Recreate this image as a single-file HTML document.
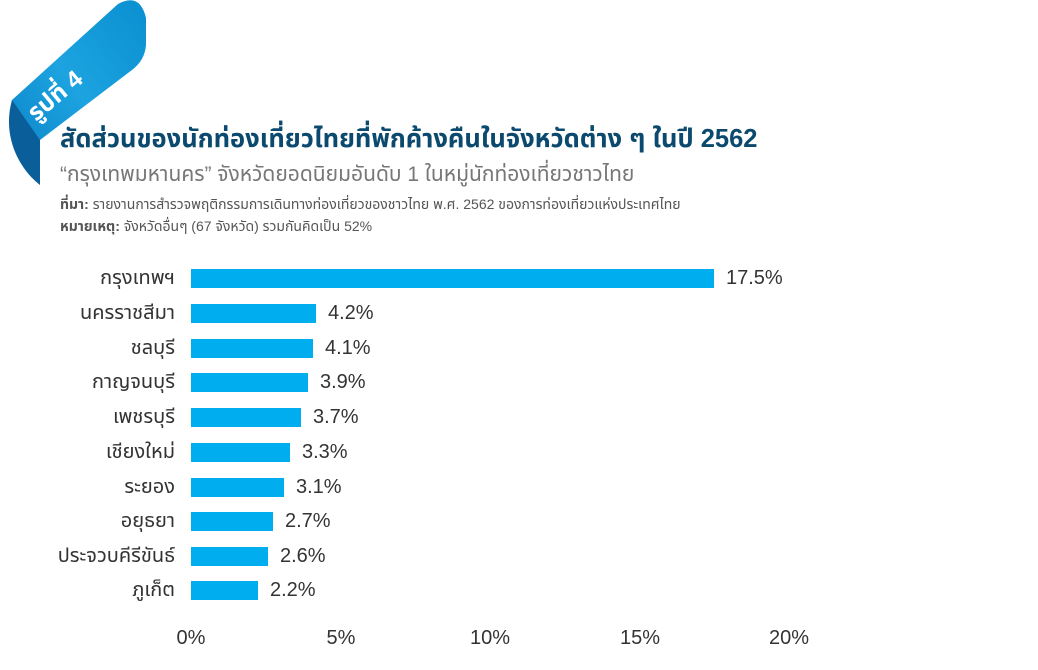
<!DOCTYPE html>
<html><head><meta charset="utf-8"><style>
body{margin:0;width:1038px;height:670px;background:#fff;font-family:"Liberation Sans","Noto Sans Thai","Tlwg Typist",sans-serif;position:relative;overflow:hidden}
.a{position:absolute;white-space:nowrap}
.lab{position:absolute;right:863px;font-size:20px;color:#333;line-height:20px}
.bar{position:absolute;left:191px;height:19px;background:#00adef}
.val{position:absolute;font-size:20px;color:#333;line-height:20px}
.tick{position:absolute;top:627px;font-size:20px;color:#333;transform:translateX(-50%)}
</style></head><body>
<svg class="a" style="left:0;top:0" width="160" height="200">
<defs><linearGradient id="g" x1="0" y1="1" x2="1" y2="0"><stop offset="0" stop-color="#0a7fc4"/><stop offset="0.5" stop-color="#1ca3e0"/><stop offset="1" stop-color="#0a8fd0"/></linearGradient></defs>
<path d="M40 185 C20 165 8 145 10 120 L12 100 L118 4 Q140 -8 146 18 L146 45 Q145 60 132 70 L40 140 Z" fill="url(#g)"/>
<path d="M12 100 C2 135 18 168 40 185 L40 140 Z" fill="#0a5f9a"/>
<text x="0" y="0" transform="translate(36 122) rotate(-40)" fill="#fff" font-size="24" font-weight="bold">รูปที่ 4</text>
</svg>
<div class="a" style="left:60px;top:121px;font-size:25.5px;font-weight:bold;color:#0b4a6e">สัดส่วนของนักท่องเที่ยวไทยที่พักค้างคืนในจังหวัดต่าง ๆ ในปี 2562</div>
<div class="a" style="left:60px;top:160px;font-size:21px;color:#777">“กรุงเทพมหานคร” จังหวัดยอดนิยมอันดับ 1 ในหมู่นักท่องเที่ยวชาวไทย</div>
<div class="a" style="left:60px;top:195px;font-size:14px;color:#555"><b>ที่มา:</b> รายงานการสำรวจพฤติกรรมการเดินทางท่องเที่ยวของชาวไทย พ.ศ. 2562 ของการท่องเที่ยวแห่งประเทศไทย</div>
<div class="a" style="left:60px;top:217px;font-size:14px;color:#555"><b>หมายเหตุ:</b> จังหวัดอื่นๆ (67 จังหวัด) รวมกันคิดเป็น 52%</div>

<div class="lab" style="top:268px">กรุงเทพฯ</div><div class="bar" style="top:269px;width:523px"></div><div class="val" style="top:268px;left:726px">17.5%</div>
<div class="lab" style="top:303px">นครราชสีมา</div><div class="bar" style="top:304px;width:125px"></div><div class="val" style="top:303px;left:328px">4.2%</div>
<div class="lab" style="top:338px">ชลบุรี</div><div class="bar" style="top:339px;width:122px"></div><div class="val" style="top:338px;left:325px">4.1%</div>
<div class="lab" style="top:372px">กาญจนบุรี</div><div class="bar" style="top:373px;width:117px"></div><div class="val" style="top:372px;left:320px">3.9%</div>
<div class="lab" style="top:407px">เพชรบุรี</div><div class="bar" style="top:408px;width:110px"></div><div class="val" style="top:407px;left:313px">3.7%</div>
<div class="lab" style="top:442px">เชียงใหม่</div><div class="bar" style="top:443px;width:99px"></div><div class="val" style="top:442px;left:302px">3.3%</div>
<div class="lab" style="top:477px">ระยอง</div><div class="bar" style="top:478px;width:93px"></div><div class="val" style="top:477px;left:296px">3.1%</div>
<div class="lab" style="top:511px">อยุธยา</div><div class="bar" style="top:512px;width:82px"></div><div class="val" style="top:511px;left:285px">2.7%</div>
<div class="lab" style="top:546px">ประจวบคีรีขันธ์</div><div class="bar" style="top:547px;width:77px"></div><div class="val" style="top:546px;left:280px">2.6%</div>
<div class="lab" style="top:580px">ภูเก็ต</div><div class="bar" style="top:581px;width:67px"></div><div class="val" style="top:580px;left:270px">2.2%</div>

<div class="tick" style="left:191px">0%</div>
<div class="tick" style="left:341px">5%</div>
<div class="tick" style="left:490px">10%</div>
<div class="tick" style="left:640px">15%</div>
<div class="tick" style="left:789px">20%</div>
</body></html>
